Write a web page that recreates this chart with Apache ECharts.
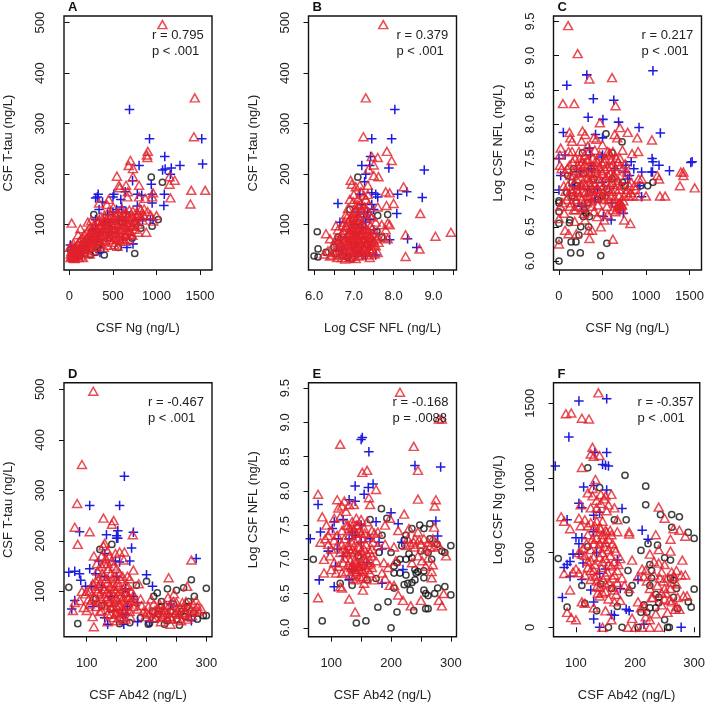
<!DOCTYPE html>
<html><head><meta charset="utf-8">
<style>html,body{margin:0;padding:0;background:#fff}#c{width:708px;height:704px}</style>
<script src="https://cdn.jsdelivr.net/npm/echarts@6/dist/echarts.min.js"></script>
</head><body><div id="c"></div>
<script>
const ngTicks=[0,500,1000,1500], nflXTicks=[6,6.5,7,7.5,8,8.5,9,9.5], nflXLabels=[6,7,8,9];
const tauTicks=[100,200,300,400,500], nflYTicks=[6,6.5,7,7.5,8,8.5,9,9.5];
const abTicks=[100,150,200,250,300], abLabels=[100,200,300];

const aBlack=[[940,194],[1068,184],[950,97],[1020,110],[750,43],[400,40],[280,120],[260,87],[460,74],[560,55],[610,105],[750,105],[820,93],[720,73],[330,60],[200,55],[120,38],[20,35],[240,40],[300,45],[180,50],[80,42],[360,50],[420,105],[350,65],[520,90],[640,75],[150,62],[280,70],[10,50]];
const aBlue=[[690,328],[920,270],[1520,270],[1530,220],[1270,217],[1170,212],[1070,208],[1100,210],[1095,235],[800,217],[725,187],[940,180],[950,160],[1090,160],[1160,200],[1085,138],[950,143],[320,155],[330,160],[500,155],[510,160],[300,153],[590,150],[640,165],[780,160],[830,158],[600,135],[540,130],[650,125],[780,137],[930,110],[960,110],[840,110],[730,62],[660,55],[400,105],[300,110],[340,130],[440,120],[500,125],[130,45],[100,40],[160,50],[10,60],[30,50],[250,70],[350,45],[300,90],[560,110],[450,85],[220,60],[380,145],[470,105]];
const aRed=[[1068,496],[1440,351],[1430,274],[1560,168],[1400,168],[1390,141],[1160,153],[1150,180],[1210,188],[1150,195],[900,245],[890,238],[895,233],[700,227],[680,217],[730,211],[545,196],[570,178],[575,173],[650,178],[670,165],[665,155],[730,195],[800,178],[960,163],[950,155],[870,152],[800,155],[450,150],[430,140],[340,143],[25,103],[125,92],[100,80],[210,105],[250,108],[12,35],[22,47],[33,58],[44,63],[52,41],[58,33],[73,51],[85,57],[93,43],[112,67],[118,54],[133,38],[141,73],[148,61],[163,47],[171,81],[178,66],[192,53],[203,87],[208,74],[222,59],[233,42],[241,96],[252,79],[258,67],[274,49],[283,101],[288,84],[302,73],[313,57],[318,107],[333,93],[338,77],[353,61],[362,116],[368,99],[382,85],[391,67],[402,119],[412,106],[418,89],[433,76],[441,59],[452,127],[458,111],[472,94],[478,83],[493,65],[503,134],[508,116],[522,101],[528,84],[543,71],[552,57],[558,124],[572,109],[578,91],[593,77],[602,131],[608,114],[622,99],[628,81],[643,67],[648,123],[662,104],[668,89],[683,71],[688,129],[702,111],[708,97],[723,79],[728,127],[742,104],[748,91],[772,117],[788,101],[803,134],[818,129],[842,109],[858,131],[882,85],[898,126],[932,119],[1000,118],[962,107],[5,55],[38,36],[65,45],[105,35],[155,35],[215,45],[265,62],[325,68],[395,55],[455,70],[515,60],[585,68],[660,80],[735,115],[790,85]];
const aRedCore=[[15,42],[28,38],[40,50],[48,34],[62,55],[78,40],[88,47],[98,62],[108,50],[125,45],[138,60],[152,52],[168,68],[182,58],[195,72],[212,65],[225,82],[238,68],[248,55],[262,90],[270,76],[282,62],[295,95],[305,82],[315,88],[328,72],[342,98],[350,84],[365,76],[378,92],[388,108],[398,80],[408,95],[422,100],[436,88],[448,102],[462,80],[470,118],[485,100],[498,88],[512,108],[525,92],[535,118],[548,98],[565,84],[575,118],[590,102],[605,90],[615,122],[635,108],[650,95],[665,115],[680,100],[695,88],[712,118],[730,98],[760,108],[780,122],[810,115],[850,120],[230,72],[275,90],[345,108],[425,112],[505,75],[565,74],[612,72],[690,80]];

const bBlack=[[7.1,194],[6.08,86],[6.1,52],[6,38],[6.1,36],[7.6,118],[7.85,120],[7.58,87],[7.7,75],[6.9,130],[7.1,105],[6.5,55],[6.55,42],[6.85,35],[7,60],[7.35,60],[6.3,45],[6.95,32],[7.1,42],[7.25,70],[6.6,75],[6.75,38]];
const bBlue=[[8.03,328],[7.95,270],[7.45,270],[7.42,235],[7.2,217],[7.4,217],[7.88,212],[8.77,208],[7.3,200],[7.27,185],[7.45,163],[7.55,160],[8.1,160],[8.33,165],[8.72,154],[7.6,155],[6.6,142],[8.08,122],[7.2,140],[7.35,125],[7.1,125],[7.5,130],[6.65,105],[7.3,105],[7.4,110],[8.35,72],[8.58,55],[7.9,70],[7.55,40],[7.2,42],[7.3,38],[6.7,50],[7,100],[7.2,95],[7.5,90],[7.15,160],[7.45,140],[7.25,115],[7.05,85],[6.8,75]];
const bRed=[[7.74,496],[7.3,351],[7.24,274],[7.83,245],[7.95,227],[7.45,235],[7.6,233],[7.5,218],[7.37,210],[7.5,197],[7.62,195],[8.25,175],[8.67,122],[8.3,80],[9.05,77],[9.44,85],[8.65,52],[8.3,37],[7.8,165],[7.9,163],[8,142],[7.35,178],[6.92,188],[6.95,180],[7.1,150],[7.85,103],[7.9,100],[7.8,90],[7.7,100],[7.05,175],[7.18,165],[6.9,150],[7.3,150],[7.6,135],[7.82,138],[6.85,132],[7.05,128],[7.2,130],[7.4,120],[6.8,120],[7,115],[6.9,112],[7.15,110],[7.3,112],[6.55,98],[6.6,90],[6.75,105],[6.95,100],[7.05,103],[7.22,100],[7.42,98],[7.55,105],[6.4,72],[6.3,82],[6.5,62],[6.62,70],[6.7,82],[6.82,95],[6.88,85],[6.93,75],[7,92],[7.08,88],[7.15,80],[7.25,85],[7.32,92],[7.48,82],[7.6,78],[7.75,75],[7.85,72],[6.35,48],[6.25,42],[6.4,38],[6.5,45],[6.6,55],[6.68,62],[6.72,42],[6.8,52],[6.85,68],[6.9,58],[6.95,45],[6.98,80],[7.02,70],[7.05,55],[7.1,65],[7.12,38],[7.18,50],[7.22,72],[7.28,60],[7.33,48],[7.38,75],[7.43,62],[7.47,52],[7.5,68],[7.55,58],[7.62,65],[7.4,35],[7.6,45],[6.78,32],[6.9,35],[7.05,33],[6.58,35],[6.45,40],[6.7,35],[7.3,65],[6.95,62],[7,48],[6.85,78],[7.15,95],[7.25,55],[7.1,72],[6.92,90],[6.75,68],[7.35,82],[7.45,72],[7.05,110],[6.98,122],[7.12,138],[7.25,122],[7.38,140]];
const bRedCore=[[6.62,48],[6.66,75],[6.7,55],[6.74,88],[6.76,50],[6.78,72],[6.8,98],[6.82,42],[6.84,60],[6.86,105],[6.88,50],[6.9,82],[6.92,68],[6.94,52],[6.96,92],[6.97,38],[6.99,72],[7.01,85],[7.03,60],[7.04,95],[7.06,46],[7.07,78],[7.09,58],[7.11,90],[7.13,52],[7.14,70],[7.16,40],[7.17,100],[7.19,62],[7.2,82],[7.21,45],[7.23,92],[7.26,68],[7.27,50],[7.29,78],[7.31,58],[7.34,40],[7.36,65],[7.37,88],[7.39,52],[7.41,78],[7.44,45],[7.46,92],[7.49,60],[7.52,42],[7.58,72],[6.55,72],[6.6,65],[6.65,40],[6.72,98],[6.83,115],[6.97,110],[7.02,125],[7.1,118],[7.18,142],[7.27,135],[7.33,128],[7.45,115],[7,160],[7.15,178],[7.25,158],[6.98,145],[7.08,140],[7.35,160]];

const cBlack=[[0,6],[480,6.08],[245,6.12],[135,6.12],[550,6.26],[0,6.3],[140,6.28],[195,6.28],[230,6.38],[250,6.5],[340,6.5],[120,6.56],[125,6.6],[0,6.55],[0,6.72],[0,6.85],[0,6.88],[90,7],[540,7.86],[725,7.74],[270,7.58],[610,7.58],[370,7.35],[1080,7.15],[1020,7.1],[940,7.1],[760,7.1],[730,7.15],[610,7.2],[550,7.05],[380,7.05],[280,7.28],[170,7.35],[100,7.25],[150,7.15],[200,6.85],[290,6.75],[310,6.7],[350,6.65],[280,6.65],[150,6.95],[450,6.9],[210,7.1],[330,6.85],[400,7.2],[500,6.95]];
const cBlue=[[320,8.72],[90,8.57],[1080,8.78],[395,8.37],[630,8.35],[335,8.1],[505,8.07],[685,8.03],[920,7.95],[50,7.88],[1165,7.87],[420,7.85],[500,7.8],[1070,7.5],[1080,7.45],[1150,7.4],[1270,7.32],[1515,7.44],[1530,7.45],[1075,7.3],[1060,7.3],[950,7.3],[500,7.55],[490,7.52],[70,7.55],[0,7.5],[360,7.55],[370,7.35],[20,7.25],[160,7.1],[0,7.04],[510,6.65],[600,6.6],[740,6.7],[700,6.75],[950,6.94],[830,7.45],[860,7.35],[790,7.2],[810,7.25],[760,7.3],[770,7.4],[930,7.1],[610,6.85],[440,7.05],[500,7.15],[330,7.05],[260,6.8],[410,6.9],[640,7.35],[350,7.65],[240,7.3]];
const cRed=[[105,9.44],[215,9.03],[350,8.66],[610,8.68],[45,8.3],[175,8.3],[650,8.27],[470,8.02],[700,7.95],[640,7.85],[670,7.8],[790,7.88],[900,7.8],[1068,7.77],[120,7.88],[130,7.8],[270,7.9],[300,7.85],[400,7.8],[430,7.78],[330,7.68],[20,7.65],[10,7.55],[110,7.6],[150,7.6],[910,7.6],[840,7.57],[730,7.62],[620,7.6],[590,7.55],[1130,7.25],[1150,7.2],[1400,7.3],[1430,7.3],[1430,7.25],[1390,7.1],[1560,7.07],[1160,6.95],[1220,6.95],[1000,6.95],[950,7.2],[620,6.32],[350,6.33],[820,6.55],[750,6.6],[380,6.45],[340,6.45],[200,6.4],[110,6.4],[70,6.45],[0,6.25],[0,6.62],[480,6.5],[520,6.6],[440,6.65],[300,6.6],[180,6.58],[60,6.7],[15,6.8],[40,6.85],[10,7.4],[30,7.35],[70,7.3],[55,7.1],[85,6.9],[100,7.1],[120,7.4],[125,6.8],[140,7.05],[155,7.45],[165,7.25],[175,6.95],[185,7.5],[190,6.75],[205,7.2],[215,7.4],[220,7],[232,6.8],[238,7.5],[245,7.1],[255,7.3],[262,6.9],[270,7.45],[280,7.15],[285,6.7],[295,7.55],[300,7],[312,7.3],[320,7.48],[325,6.85],[335,7.15],[345,7.6],[350,6.95],[362,7.38],[370,7.1],[380,6.8],[388,7.5],[395,7.25],[405,6.95],[412,7.62],[420,7.35],[428,7.05],[440,7.45],[448,6.82],[455,7.2],[465,7.55],[472,7],[485,7.32],[492,6.72],[502,7.42],[510,7.1],[520,6.9],[530,7.5],[540,7.22],[552,6.8],[560,7.38],[570,7.05],[580,7.58],[590,7.28],[600,6.95],[612,7.15],[620,7.42],[632,6.85],[640,7.25],[650,7.05],[660,7.5],[672,6.78],[680,7.18],[690,6.95],[698,7.38],[705,6.8],[715,7.1],[725,6.82],[735,7.35],[745,6.95],[755,7.2],[770,7],[785,7.05],[800,6.95],[810,7.1],[825,7],[850,6.95],[865,7.1],[880,7.05],[900,6.95],[915,7.2],[700,7.5],[760,7.42],[150,7.75],[230,7.6],[500,7.7],[560,7.6],[260,7.75],[690,6.85],[720,6.75],[650,6.72]];
const cRedCore=[[160,7.02],[178,7.15],[195,6.9],[208,7.05],[225,7.28],[240,6.95],[258,7.12],[272,7.02],[288,7.3],[303,7.12],[318,6.92],[330,7.22],[342,7.02],[355,7.28],[368,6.88],[378,7.2],[392,7.02],[402,7.38],[415,7.12],[425,6.92],[436,7.28],[450,7.05],[462,7.38],[475,7.15],[488,6.92],[498,7.28],[512,7.02],[525,7.35],[535,6.95],[548,7.15],[562,7.25],[575,6.9],[588,7.12],[598,7.38],[610,7.02],[625,7.25],[638,6.92],[655,7.32],[668,7.12],[678,6.82],[692,7.05],[708,6.85],[720,6.82],[740,6.88],[300,7.42],[250,7.42],[200,7.32],[130,7.25],[95,7.35],[75,7.02],[110,6.95],[145,6.85],[170,6.75],[270,6.78],[400,6.72],[560,6.68],[620,6.75],[780,7.3],[830,7.15],[340,7.48],[430,7.48],[520,7.45],[600,7.48],[680,7.45]];

const dBlack=[[70,108],[85,36],[122,183],[142,193],[200,120],[183,112],[218,97],[235,105],[250,102],[275,123],[262,107],[300,106],[280,90],[212,90],[225,80],[270,80],[205,37],[203,35],[220,55],[230,35],[235,42],[255,33],[265,50],[285,45],[295,52],[300,52],[278,57],[258,60],[240,60],[225,70],[250,45],[172,38],[155,36],[165,95],[115,85],[125,72],[140,65],[215,45],[245,75],[268,70],[190,48],[210,60]];
const dBlue=[[163,328],[105,270],[155,270],[88,218],[150,210],[152,220],[152,205],[150,205],[133,212],[178,217],[175,186],[130,175],[70,138],[80,140],[88,135],[105,145],[120,160],[148,160],[155,158],[172,160],[200,133],[210,110],[98,110],[108,110],[90,122],[80,82],[75,65],[125,108],[165,105],[130,130],[178,90],[110,70],[160,55],[165,55],[162,35],[135,35],[130,48],[185,40],[185,78],[240,75],[283,165],[275,42],[205,40],[140,90],[150,130],[115,135],[168,70]];
const dRed=[[111,496],[92,351],[84,274],[80,227],[105,218],[85,193],[128,245],[145,240],[142,233],[177,212],[275,162],[237,127],[268,110],[112,170],[130,195],[128,190],[155,178],[163,178],[162,162],[178,142],[168,130],[187,115],[178,92],[112,30],[110,50],[77,62],[80,78],[92,100],[98,95],[103,85],[105,75],[88,82],[95,68],[100,62],[115,120],[120,110],[118,140],[125,150],[132,165],[135,155],[138,170],[142,160],[148,175],[150,145],[128,130],[122,95],[118,80],[112,90],[125,62],[130,105],[135,118],[138,95],[140,80],[142,125],[145,105],[148,88],[150,70],[152,118],[155,100],[158,82],[160,130],[162,65],[165,112],[168,88],[170,75],[172,60],[175,100],[178,70],[180,80],[140,55],[145,48],[135,40],[150,42],[160,45],[128,75],[133,85],[155,60],[165,45],[185,65],[190,85],[195,60],[198,50],[203,70],[208,85],[212,75],[216,48],[220,65],[224,40],[228,55],[232,72],[236,88],[240,35],[243,62],[246,95],[250,78],[254,55],[258,42],[262,68],[266,80],[270,50],[274,62],[278,75],[283,82],[287,60],[292,65],[240,50],[252,62],[260,55],[235,58],[225,62],[100,100],[108,82],[115,70],[120,125],[145,70],[155,135],[172,125]];
const dRedCore=[[118,100],[122,115],[124,85],[126,135],[128,105],[130,90],[131,72],[133,125],[134,100],[136,145],[137,80],[139,110],[140,135],[141,68],[143,95],[144,115],[146,78],[147,130],[149,100],[150,58],[151,85],[153,110],[154,72],[156,125],[157,90],[159,65],[161,105],[163,85],[164,60],[166,98],[167,72],[169,110],[171,88],[173,50],[176,82],[130,155],[125,170],[135,180],[145,150],[117,155],[115,105],[110,115],[105,100],[122,60],[135,55],[148,55],[155,48],[205,55],[210,48],[218,58],[222,75],[226,50],[230,62],[234,48],[238,72],[242,45],[245,80],[248,58],[252,45],[256,68],[260,78],[264,58],[268,45],[272,70],[276,52],[280,62],[285,70],[214,62],[200,58],[192,72]];

const eBlack=[[70,7],[85,6.1],[142,6.07],[158,6.1],[200,6],[178,6.3],[195,6.38],[210,6.23],[238,6.25],[258,6.28],[262,6.28],[290,6.6],[300,6.48],[273,6.5],[278,6.58],[255,6.55],[258,6.5],[262,6.47],[232,6.55],[205,6.58],[222,6.63],[228,6.65],[235,6.66],[184,7.74],[193,7.6],[165,7.58],[185,7.35],[235,7.45],[248,7.5],[255,7.45],[265,7.52],[225,7.35],[222,7.28],[218,7.2],[300,7.2],[290,7.1],[285,7.12],[277,7.22],[268,7],[262,7.1],[250,7.12],[230,7.08],[225,7],[215,7],[210,6.95],[205,6.9],[215,6.8],[225,6.77],[240,6.85],[245,6.82],[240,6.7],[255,6.73],[255,6.83],[200,7.1],[180,7.1],[175,6.72],[160,6.7],[115,6.65],[135,6.62],[145,7.05],[242,6.8],[265,7.3],[235,7.02],[205,6.8]];
const eBlue=[[150,8.75],[152,8.78],[163,8.57],[240,8.37],[283,8.35],[170,8.1],[162,8.05],[140,8.07],[155,7.95],[78,7.8],[130,7.87],[140,7.85],[200,7.68],[275,7.56],[212,7.52],[175,7.55],[65,7.3],[82,7.4],[105,7.55],[102,7.45],[120,7.58],[278,7.34],[218,7.25],[150,7.5],[140,7.35],[135,7.4],[130,7.3],[95,7.12],[112,7.3],[165,7.3],[180,7.25],[110,7.15],[107,6.9],[80,6.7],[105,6.6],[130,6.7],[135,6.85],[160,6.95],[185,6.65],[220,6.85],[185,7.15],[150,7.25],[120,7.05]];
const eRed=[[215,9.44],[280,9.05],[285,9.05],[115,8.68],[238,8.65],[245,8.3],[152,8.27],[160,8.3],[245,7.88],[175,8.02],[163,7.9],[165,7.8],[78,7.95],[110,7.87],[122,7.85],[130,7.8],[138,7.8],[275,7.87],[273,7.78],[222,7.66],[85,7.62],[112,7.75],[118,7.78],[125,7.7],[105,7.6],[115,7.62],[135,7.55],[142,7.6],[150,7.58],[160,7.55],[92,7.5],[100,7.42],[110,7.35],[125,7.5],[130,7.45],[145,7.5],[155,7.45],[168,7.42],[172,7.38],[178,7.4],[190,7.5],[198,7.6],[212,7.42],[272,7.47],[230,7.45],[245,7.4],[82,7.25],[90,7.3],[95,7.22],[105,7.28],[118,7.22],[128,7.2],[138,7.28],[148,7.18],[158,7.22],[168,7.15],[178,7.2],[190,7.22],[205,7.18],[225,7.2],[238,7.25],[250,7.22],[262,7.25],[272,7.18],[280,7.2],[292,7.05],[88,7],[98,7.05],[105,6.95],[115,7.1],[122,7.02],[128,6.92],[133,7.1],[140,7],[145,6.9],[150,7.12],[155,7.02],[162,6.92],[168,7.05],[175,6.98],[185,6.8],[188,6.95],[195,6.88],[208,6.98],[235,6.95],[252,6.98],[262,7.02],[270,6.92],[88,6.8],[100,6.85],[112,6.9],[125,6.82],[132,6.78],[138,6.88],[142,6.82],[148,6.75],[152,6.85],[158,6.72],[165,6.8],[172,6.7],[190,6.72],[198,6.62],[205,6.62],[268,6.73],[268,6.82],[115,6.6],[118,6.58],[130,6.42],[78,6.44],[140,6.23],[153,6.55],[212,6.48],[220,6.4],[233,6.32],[250,6.4],[280,6.4],[285,6.32],[288,6.5],[140,6.95],[135,7.15],[145,7.3],[125,7.12],[150,6.98],[130,7.35],[120,6.95],[142,6.7],[155,6.65]];
const eRedCore=[[118,7.42],[122,7.3],[126,7.08],[130,7.15],[132,6.98],[134,7.25],[136,6.92],[138,7.42],[140,7.12],[142,7.38],[143,6.95],[145,7.18],[146,6.85],[148,7.42],[149,7.05],[151,6.92],[152,7.3],[154,6.82],[155,7.15],[156,7.38],[158,6.98],[160,7.08],[161,6.85],[163,7.32],[165,7.1],[166,6.95],[168,6.88],[170,7.25],[133,6.88],[137,6.72],[141,6.78],[147,6.9],[153,6.75],[139,6.85],[128,7.5],[135,7.48],[142,7.5],[150,7.38],[110,7.2],[100,7.15],[95,7.35],[120,7.15],[118,6.8],[108,6.8],[232,7.22],[240,7.18],[247,7.28],[255,7.3],[258,7.15],[265,7.18],[270,7.3],[245,7.05],[258,6.9],[240,7.3],[228,7.3],[275,7.25]];

const fBlack=[[120,1068],[183,1018],[218,945],[140,935],[218,820],[243,755],[262,755],[275,740],[262,670],[290,635],[300,595],[165,720],[185,720],[222,560],[210,515],[238,550],[250,465],[260,450],[70,460],[85,135],[120,540],[300,255],[295,135],[270,260],[260,330],[265,200],[250,50],[155,0],[178,0],[255,0],[258,0],[225,420],[228,380],[228,330],[225,280],[235,220],[240,200],[240,165],[235,130],[225,130],[220,100],[215,150],[210,100],[190,230],[195,280],[188,380],[170,140],[142,290],[135,110],[115,160],[110,280],[265,315],[272,125],[290,170],[160,260],[205,0]];
const fBlue=[[105,1515],[152,1530],[88,1275],[65,1080],[132,1170],[152,1170],[145,1090],[150,1085],[155,1080],[113,940],[130,950],[152,920],[105,830],[110,800],[178,795],[140,770],[130,750],[85,720],[212,650],[222,590],[130,640],[100,600],[105,560],[110,600],[95,490],[105,490],[90,440],[85,420],[80,400],[90,340],[77,200],[110,320],[125,250],[130,170],[130,55],[165,80],[160,85],[140,0],[278,0],[215,20],[205,320],[175,260],[190,110],[185,120],[170,450],[135,500],[140,360],[150,390],[112,430]];
const fRed=[[138,1570],[83,1430],[92,1435],[110,1400],[122,1395],[128,1205],[125,1160],[130,1145],[140,1150],[110,1070],[133,990],[128,930],[120,900],[142,890],[150,880],[160,890],[108,820],[125,800],[135,800],[155,820],[165,800],[240,805],[250,730],[75,740],[80,710],[105,730],[115,720],[125,700],[135,710],[170,720],[90,660],[108,680],[120,680],[140,670],[150,650],[158,650],[170,640],[190,640],[190,625],[235,620],[275,650],[265,660],[285,610],[260,590],[120,620],[135,600],[145,590],[155,520],[165,530],[240,520],[260,510],[280,450],[195,450],[175,460],[165,440],[125,520],[115,480],[130,470],[145,500],[100,390],[95,370],[80,360],[105,365],[120,400],[132,340],[125,320],[135,310],[150,350],[162,330],[178,330],[182,280],[190,260],[110,490],[90,250],[110,170],[115,160],[85,100],[92,65],[100,50],[137,230],[140,210],[150,240],[165,170],[175,180],[130,130],[150,110],[160,50],[195,60],[200,0],[188,0],[212,0],[225,0],[240,0],[145,0],[212,390],[218,380],[205,340],[225,490],[232,440],[240,430],[245,370],[250,420],[255,330],[262,370],[270,380],[285,350],[230,200],[245,150],[255,100],[262,170],[270,140],[275,120],[282,210],[288,210],[250,260],[260,260],[215,140],[218,70],[225,50],[250,190],[270,290],[140,270],[150,290],[165,250],[170,380],[155,420],[145,440],[130,380],[115,350],[140,560],[150,570],[160,620],[128,590],[120,440]];
const fRedCore=[[125,450],[130,560],[132,420],[134,640],[136,350],[138,530],[140,470],[142,660],[143,400],[145,620],[146,320],[148,540],[150,460],[152,640],[153,370],[155,590],[156,300],[158,480],[160,410],[162,560],[163,270],[165,350],[167,510],[168,220],[170,300],[172,420],[118,560],[112,530],[105,500],[125,380],[135,270],[145,230],[155,190],[128,880],[135,850],[142,830],[148,860],[152,780],[138,760],[145,710],[132,680],[215,340],[220,310],[228,200],[232,350],[238,280],[242,330],[248,310],[252,230],[258,180],[262,300],[266,340],[272,200],[278,350],[210,130],[205,170],[225,260],[235,90],[245,230],[268,120]];

const RED='#e2202a', BLUE='#1c1ce0', BLACK='#111';
const PLUS='path://M4.2,0h1.6v10h-1.6zM0,4.2h10v1.6h-10z';
const FONT='"Liberation Sans"';
const col2=[64,308.5,553.5], row=[16,382.7];
const panels=[
 {letter:'A',c:0,r:0,xn:'CSF Ng (ng/L)',yn:'CSF T-tau (ng/L)',x:[-63,1638],y:[10.3,513],xt:ngTicks,xl:ngTicks,yt:tauTicks,yf:v=>v,xf:v=>v,s:['r = 0.795','p < .001'],d:[aBlack,aBlue,aRed.concat(aRedCore)]},
 {letter:'B',c:1,r:0,xn:'Log CSF NFL (ng/L)',yn:'CSF T-tau (ng/L)',x:[5.86,9.58],y:[10.3,513],xt:nflXTicks,xl:nflXLabels,yt:tauTicks,yf:v=>v,xf:v=>v.toFixed(1),s:['r = 0.379','p < .001'],d:[bBlack,bBlue,bRed.concat(bRedCore)]},
 {letter:'C',c:2,r:0,xn:'CSF Ng (ng/L)',yn:'Log CSF NFL (ng/L)',x:[-63,1638],y:[5.87,9.58],xt:ngTicks,xl:ngTicks,yt:nflYTicks,yf:v=>v.toFixed(1),xf:v=>v,s:['r = 0.217','p < .001'],d:[cBlack,cBlue,cRed.concat(cRedCore)]},
 {letter:'D',c:0,r:1,xn:'CSF Ab42 (ng/L)',yn:'CSF T-tau (ng/L)',x:[62,309.5],y:[10.3,513],xt:abTicks,xl:abLabels,yt:tauTicks,yf:v=>v,xf:v=>v,s:['r = -0.467','p < .001'],d:[dBlack,dBlue,dRed.concat(dRedCore)]},
 {letter:'E',c:1,r:1,xn:'CSF Ab42 (ng/L)',yn:'Log CSF NFL (ng/L)',x:[62,309.5],y:[5.87,9.58],xt:abTicks,xl:abLabels,yt:nflYTicks,yf:v=>v.toFixed(1),xf:v=>v,s:['r = -0.168','p = .0088'],d:[eBlack,eBlue,eRed.concat(eRedCore)]},
 {letter:'F',c:2,r:1,xn:'CSF Ab42 (ng/L)',yn:'Log CSF Ng (ng/L)',x:[62,309.5],y:[-63,1638],xt:abTicks,xl:abLabels,yt:ngTicks,yf:v=>v,xf:v=>v,s:['r = -0.357','p < .001'],d:[fBlack,fBlue,fRed.concat(fRedCore)]}
];
const W=148,H=254;
const grid=[],xAxis=[],yAxis=[],series=[],graphic=[];
panels.forEach((p,i)=>{
 const L=col2[p.c],T=row[p.r];
 grid.push({left:L,top:T,width:W,height:H,show:true,borderColor:'#111',borderWidth:1.4,backgroundColor:'transparent',z:5});
 const common={type:'value',splitLine:{show:false},minorTick:{show:false},axisLine:{show:false}};
 xAxis.push({...common,gridIndex:i,min:p.x[0],max:p.x[1],
  name:p.xn,nameLocation:'middle',nameGap:52,nameTextStyle:{fontFamily:FONT,fontSize:13,color:'#222'},
  axisTick:{show:true,length:5,lineStyle:{color:'#111',width:1},customValues:p.xt},
  axisLabel:{fontFamily:FONT,fontSize:13,color:'#222',margin:20,customValues:p.xl,formatter:p.xf,hideOverlap:false}});
 yAxis.push({...common,gridIndex:i,min:p.y[0],max:p.y[1],
  name:p.yn,nameLocation:'middle',nameGap:49,nameTextStyle:{fontFamily:FONT,fontSize:13,color:'#222'},
  axisTick:{show:true,length:5,lineStyle:{color:'#111',width:1},customValues:p.yt},
  axisLabel:{fontFamily:FONT,fontSize:13,color:'#222',rotate:90,margin:17,customValues:p.yt,formatter:p.yf,hideOverlap:false}});
 const base={type:'scatter',xAxisIndex:i,yAxisIndex:i,silent:true,animation:false,large:false,clip:false};
 series.push({...base,name:'black'+i,data:p.d[0],symbol:'circle',symbolSize:6.2,itemStyle:{color:'none',borderColor:BLACK,borderWidth:1.5}});
 series.push({...base,name:'blue'+i,data:p.d[1],symbol:PLUS,symbolSize:9.5,itemStyle:{color:BLUE,opacity:1}});
 series.push({...base,name:'red'+i,data:p.d[2],symbol:'triangle',symbolSize:[9,8],itemStyle:{color:'none',borderColor:RED,borderWidth:1.5}});
 const sw=p.s[0].includes('-')?57:53;
 graphic.push({type:'text',left:L+4,top:T-15,z:20,style:{text:p.letter,fontFamily:FONT,fontWeight:'bold',fontSize:13,fill:'#111'}});
 graphic.push({type:'text',left:L+W-7-sw,top:T+13,z:20,style:{text:p.s[0],fontFamily:FONT,fontSize:13,fill:'#222'}});
 graphic.push({type:'text',left:L+W-7-sw,top:T+29,z:20,style:{text:p.s[1],fontFamily:FONT,fontSize:13,fill:'#222'}});
});
const chart=echarts.init(document.getElementById('c'),null,{renderer:'canvas'});
chart.setOption({animation:false,backgroundColor:'#fff',grid,xAxis,yAxis,series,graphic});
</script></body></html>
